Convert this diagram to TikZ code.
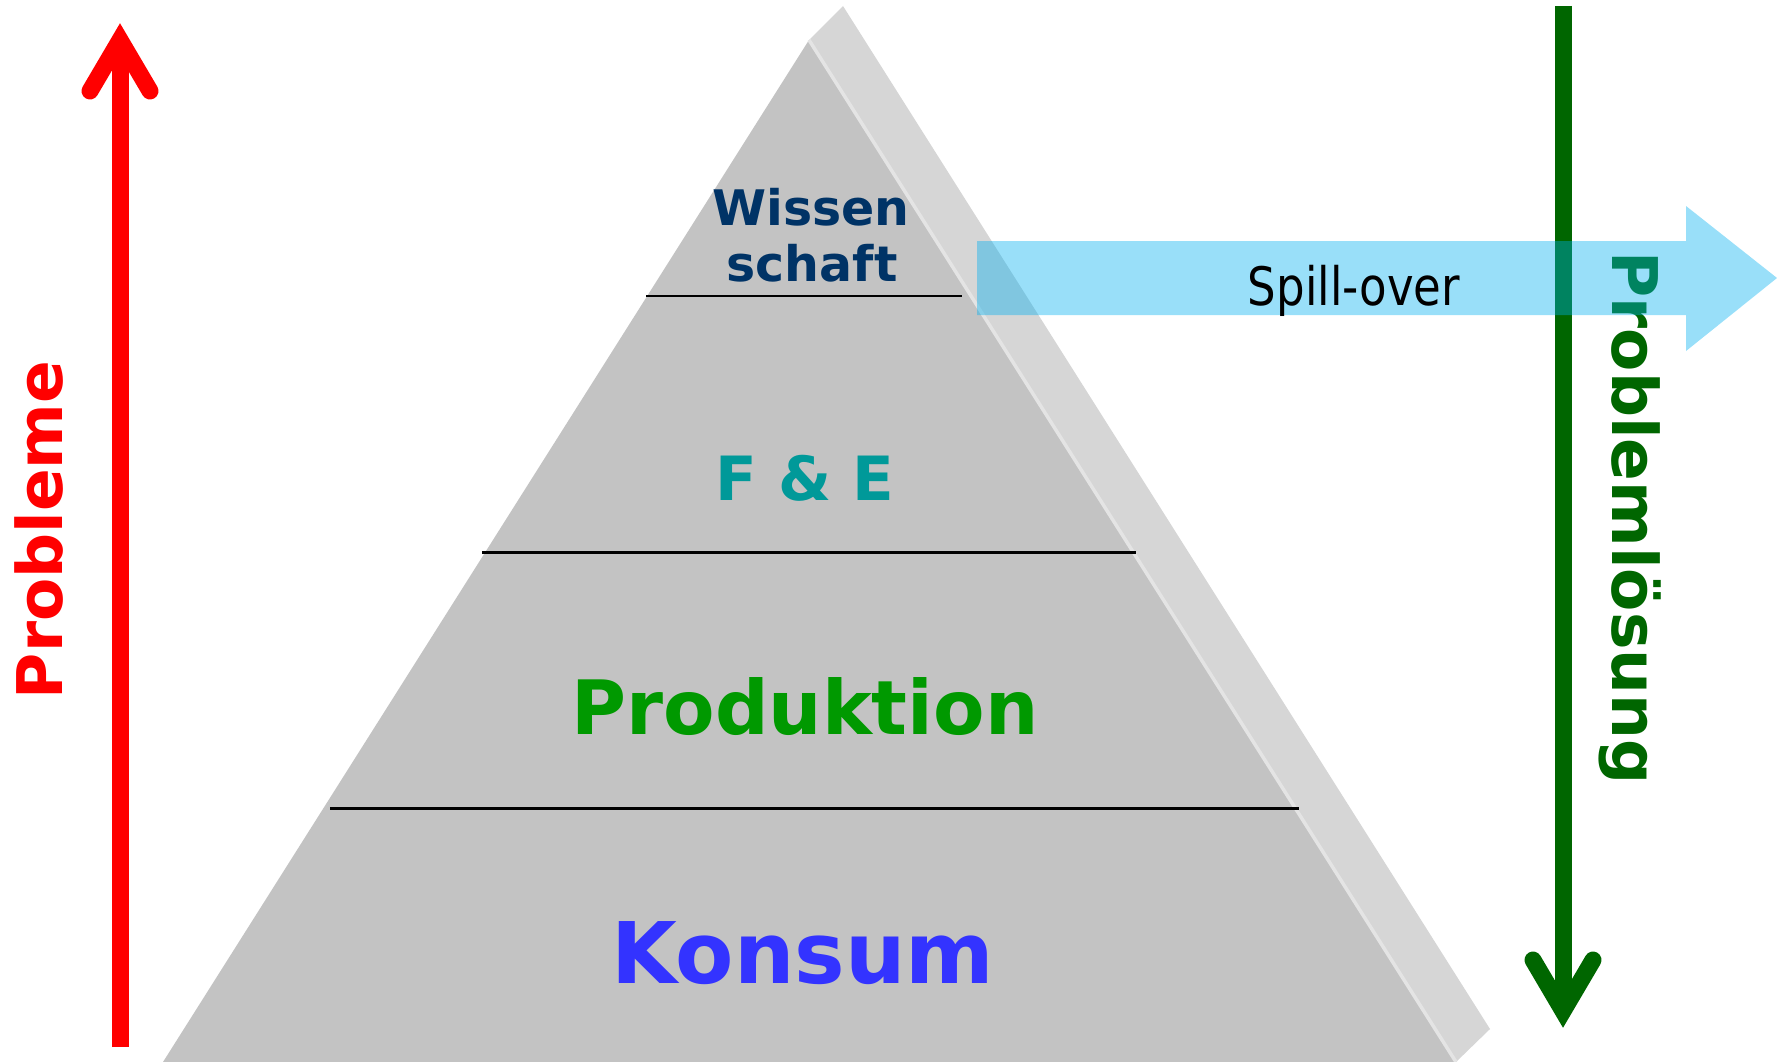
\documentclass[tikz,border=0pt]{standalone}
\usepackage{fontspec}
\setmainfont{DejaVu Sans}
\newfontfamily\spillfont{DejaVu Sans}[FakeStretch=0.85]
\definecolor{frontgray}{HTML}{C3C3C3}
\definecolor{sidegray}{HTML}{D6D6D6}
\definecolor{edgegray}{HTML}{E4E4E4}
\definecolor{wissblue}{HTML}{003366}
\definecolor{feteal}{HTML}{009999}
\definecolor{prodgreen}{HTML}{009900}
\definecolor{konsblue}{HTML}{3333FF}
\definecolor{arrgreen}{HTML}{006600}
\definecolor{spillblue}{RGB}{0,176,240}
\begin{document}
\begin{tikzpicture}[x=1pt,y=-1pt,
  layerline/.style={draw=black, line width=3pt},
  label/.style={font=\bfseries, anchor=base, inner sep=0pt},
  shaft/.style={line width=17pt},
  chevron/.style={line width=17pt, line cap=round, miter limit=10}]
\useasboundingbox (0,0) rectangle (1777,1062);
% pyramid
\coordinate (apex) at (809,40);
\coordinate (bl) at (163,1062);
\coordinate (br) at (1456,1062);
\coordinate (sapex) at (843,6);
\coordinate (sbr) at (1490,1029);
\fill[sidegray] (apex) -- (sapex) -- (sbr) -- (br) -- cycle;
\fill[frontgray] (apex) -- (bl) -- (br) -- cycle;
\draw[edgegray, line width=3.5pt] (apex) -- (br);
% layer lines
\coordinate (l1a) at (646,296); \coordinate (l1b) at (962,296);
\coordinate (l2a) at (482,552); \coordinate (l2b) at (1136,552);
\coordinate (l3a) at (330,808); \coordinate (l3b) at (1299,808);
\draw[layerline, line width=2.5pt] (l1a) -- (l1b);
\draw[layerline] (l2a) -- (l2b);
\draw[layerline] (l3a) -- (l3b);
% labels
\node[label, text=wissblue, font=\bfseries\fontsize{49}{58}\selectfont] (wissen) at (811,225) {Wissen};
\node[label, text=wissblue, font=\bfseries\fontsize{49}{58}\selectfont] (schaft) at (812,281) {schaft};
\node[label, text=feteal, font=\bfseries\fontsize{61}{70}\selectfont] (fue) at (805,500) {F \& E};
\node[label, text=prodgreen, font=\bfseries\fontsize{75}{84}\selectfont] (prod) at (805,734) {Produktion};
\node[label, text=konsblue, font=\bfseries\fontsize{85}{95}\selectfont] (kons) at (803,983) {Konsum};
% red arrow
\coordinate (rbot) at (120,1047);
\coordinate (rtop) at (120,46);
\coordinate (rtip) at (120,40);
\coordinate (rl) at (90,91);
\coordinate (rr) at (150,91);
\draw[red, shaft] (rbot) -- (rtop);
\draw[red, chevron] (rl) -- (rtip) -- (rr);
\node[label, text=red, rotate=90, font=\bfseries\fontsize{63}{70}\selectfont] (probleme) at (62,530) {Probleme};
% green arrow
\coordinate (gtop) at (1563,6);
\coordinate (gbot) at (1563,1005);
\coordinate (gtip) at (1563,1011);
\coordinate (gl) at (1533,960);
\coordinate (gr) at (1593,960);
\draw[arrgreen, shaft] (gtop) -- (gbot);
\draw[arrgreen, chevron] (gl) -- (gtip) -- (gr);
\node[label, text=arrgreen, rotate=-90, font=\bfseries\fontsize{63}{70}\selectfont] (loesung) at (1612,518) {Problemlösung};
% spill-over arrow
\fill[spillblue, opacity=0.4] (977,241) -- (1686,241) -- (1686,206) -- (1777,278) -- (1686,351) -- (1686,315) -- (977,315) -- cycle;
\node[anchor=base, inner sep=0pt, font=\spillfont\fontsize{53}{60}\selectfont] (spill) at (1354,305) {Spill-over};
\end{tikzpicture}
\end{document}
